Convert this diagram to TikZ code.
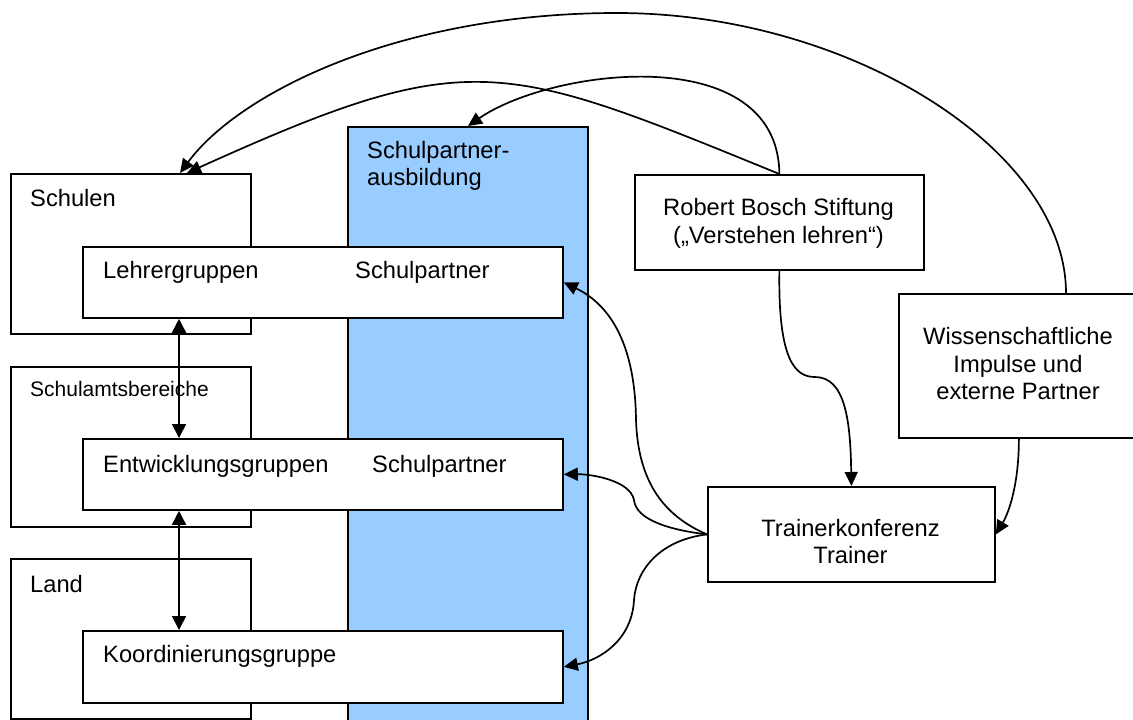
\documentclass[tikz,border=0pt]{standalone}
\usepackage{fontspec}
\setmainfont{Liberation Sans}
\usetikzlibrary{arrows.meta,calc}
\definecolor{spblue}{RGB}{153,204,255}
\tikzset{
  box/.style={draw, line width=1.8pt, fill=white, rectangle, inner sep=0pt, anchor=north west},
  txt/.style={inner sep=0pt, font=\fontsize{23.7}{28}\selectfont},
  smalltxt/.style={inner sep=0pt, font=\fontsize{21}{25}\selectfont},
  conn/.style={line width=1.7pt, -{Triangle[length=14pt,width=13pt]}},
  dconn/.style={line width=1.7pt, {Triangle[length=14pt,width=14pt]}-{Triangle[length=14pt,width=14pt]}}
}
\begin{document}
\begin{tikzpicture}[x=1pt,y=-1pt]
\useasboundingbox (0,0) rectangle (1133,720);
% outer boxes
\node[box, minimum width=240pt, minimum height=160pt] (schulen) at (10,173) {};
\node[box, minimum width=240pt, minimum height=160pt] (sab) at (10,366) {};
\node[box, minimum width=240pt, minimum height=160pt] (land) at (10,558) {};
% blue column
\node[box, fill=spblue, minimum width=240pt, minimum height=610pt] (spa) at (347,126) {};
% inner boxes
\node[box, minimum width=480pt, minimum height=71pt] (lehrer) at (82,246) {};
\node[box, minimum width=480pt, minimum height=71pt] (entw) at (82,438) {};
\node[box, minimum width=480pt, minimum height=72pt] (koord) at (82,630) {};
% right boxes
\node[box, minimum width=289pt, minimum height=95pt] (bosch) at (634,174) {};
\node[box, minimum width=240pt, minimum height=144pt] (wiss) at (898,293) {};
\node[box, minimum width=287pt, minimum height=95pt] (trainer) at (707,486) {};

% texts
\node[txt, anchor=base west] (tschulen) at (30,206) {Schulen};
\node[txt, anchor=base west] (tlehrer) at (103,278) {Lehrergruppen};
\node[txt, anchor=base west] (tsp1) at (355,278) {Schulpartner};
\node[smalltxt, anchor=base west] (tsab) at (30,396) {Schulamtsbereiche};
\node[txt, anchor=base west] (tentw) at (103,472) {Entwicklungsgruppen};
\node[txt, anchor=base west] (tsp2) at (372,472) {Schulpartner};
\node[txt, anchor=base west] (tland) at (30,592) {Land};
\node[txt, anchor=base west] (tkoord) at (103,662) {Koordinierungsgruppe};
\node[txt, anchor=base west] (tspa1) at (367,158) {Schulpartner-};
\node[txt, anchor=base west] (tspa2) at (367,185) {ausbildung};
\node[txt, anchor=base] (tbosch1) at (778.5,215) {Robert Bosch Stiftung};
\node[txt, anchor=base] (tbosch2) at (778.5,243) {(„Verstehen lehren“)};
\node[txt, anchor=base] (twiss1) at (1018,344) {Wissenschaftliche};
\node[txt, anchor=base] (twiss2) at (1018,372) {Impulse und};
\node[txt, anchor=base] (twiss3) at (1018,399) {externe Partner};
\node[txt, anchor=base] (ttr1) at (850.5,536) {Trainerkonferenz};
\node[txt, anchor=base] (ttr2) at (850.5,563) {Trainer};

% waypoints
\coordinate (ctop) at (617,13);
\coordinate (dmid) at (815,377);
\coordinate (fmid) at (636,420);
\coordinate (gmid) at (634,500);
\coordinate (hmid) at (634,600);

% vertical double arrows
\draw[dconn] ([xshift=97pt]lehrer.south west) -- ([xshift=97pt]entw.north west);
\draw[dconn] ([xshift=97pt]entw.south west) -- ([xshift=97pt]koord.north west);

% curves from Bosch
\draw[conn] (bosch.north) .. controls (500,60) and (470,45) .. ([xshift=177pt]schulen.north west);
\draw[conn] (bosch.north) .. controls (778,40) and (552,68) .. ([xshift=121pt]spa.north west);
\draw[conn] (bosch.south) .. controls (778,360) and (795,377) .. (dmid) .. controls (845,377) and (850.5,420) .. (trainer.north);

% curves from Wissenschaftliche
\draw[conn] ([xshift=168pt]wiss.north west) .. controls (1066,150) and (850,13) .. (ctop) .. controls (400,13) and (240,92) .. ([xshift=170pt]schulen.north west);
\draw[conn] (wiss.south) .. controls +(0,43) and +(14,-23.5) .. (trainer.east);

% curves from Trainer
\draw[conn] (trainer.west) .. controls (662,515) and (638,480) .. (fmid) .. controls (635,330) and (600,300) .. (lehrer.east);
\draw[conn] (trainer.west) .. controls (670,530) and (636,520) .. (gmid) .. controls (630,480) and (590,474) .. (entw.east);
\draw[conn] (trainer.west) .. controls (660,540) and (636,570) .. (hmid) .. controls (632,640) and (600,660) .. (koord.east);
\end{tikzpicture}
\end{document}
